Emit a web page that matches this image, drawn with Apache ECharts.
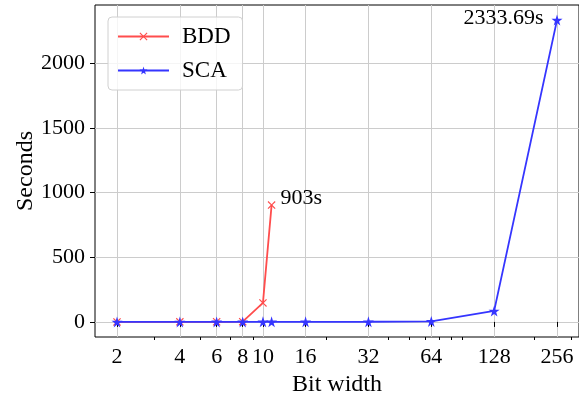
<!DOCTYPE html>
<html>
<head>
<meta charset="utf-8">
<script src="https://cdn.jsdelivr.net/npm/echarts@6/dist/echarts.min.js"></script>
<style>
html, body { margin: 0; padding: 0; background: #fff; }
#chart { width: 579px; height: 397px; }
</style>
</head>
<body>
<div id="chart"></div>
<script>
// data
var bddWidths = [2, 4, 6, 8, 10, 11];
var bddSeconds = [0.1, 0.3, 0.8, 2, 147, 903];
var scaWidths = [2, 4, 6, 8, 10, 11, 16, 32, 64, 128, 256];
var scaSeconds = [0.1, 0.1, 0.2, 0.2, 0.3, 0.3, 0.5, 1.2, 4, 85, 2333.69];
var xTickValues = [2, 4, 6, 8, 10, 16, 32, 64, 128, 256];
var xMinorTicks = [3, 5, 7, 9, 20, 40, 50, 60, 70, 80, 90, 200, 300];
var yTickValues = [0, 500, 1000, 1500, 2000];

var fontName = '"Liberation Serif", "DejaVu Serif", serif';
var redColor = '#ff4d4d';
var blueColor = '#3535ff';
var crossPath = 'path://M0,1L1,0L5,4L9,0L10,1L6,5L10,9L9,10L5,6L1,10L0,9L4,5Z';
var starPath = 'path://M50,0L61,35L98,35L68,57L79,91L50,70L21,91L32,57L2,35L39,35Z';

function log2(v) { return Math.log(v) / Math.LN2; }

/*
 * 生成折线数据（x 取 log2）
 */
function buildPoints(widths, values, labelIndex, labelOpt) {
	var arr = [];
	for (var i = 0; i < widths.length; i++) {
		var item = { value: [log2(widths[i]), values[i]] };
		if (i == labelIndex) {
			item.label = labelOpt;
		}
		arr.push(item);
	}
	return arr;
}

var chart = echarts.init(document.getElementById('chart'));
var option = {
	animation: false,
	textStyle: { fontFamily: fontName },
	grid: {
		left: 95,
		right: 0,
		top: 5,
		bottom: 60,
		show: true,
		borderColor: '#000',
		borderWidth: 1,
		containLabel: false,
		outerBoundsMode: 'none'
	},
	legend: {
		orient: 'vertical',
		left: 108,
		top: 17,
		padding: [8, 12, 8, 9],
		itemWidth: 51,
		itemHeight: 10,
		itemGap: 11,
		selectedMode: false,
		backgroundColor: 'rgba(255,255,255,0.8)',
		borderColor: '#d0d0d0',
		borderWidth: 1,
		borderRadius: 4,
		textStyle: { fontFamily: fontName, fontSize: 23, color: '#000', padding: [0, 0, 0, 8] },
		data: ['BDD', 'SCA']
	},
	xAxis: [{
		type: 'value',
		min: 0.65,
		max: 8.35,
		name: 'Bit width',
		nameLocation: 'middle',
		nameGap: 35,
		nameTextStyle: { fontFamily: fontName, fontSize: 24, color: '#000' },
		axisLine: { show: false },
		axisTick: {
			show: true,
			length: 5,
			lineStyle: { color: '#000' },
			customValues: xTickValues.map(log2)
		},
		axisLabel: {
			fontFamily: fontName,
			fontSize: 22,
			color: '#000',
			margin: 9,
			customValues: xTickValues.map(log2),
			formatter: function (v) { return String(Math.round(Math.pow(2, v))); }
		},
		splitLine: { show: true, lineStyle: { color: '#cccccc', width: 1 } }
	}, {
		type: 'value',
		position: 'bottom',
		min: 0.65,
		max: 8.35,
		axisLine: { show: false },
		axisLabel: { show: false },
		splitLine: { show: false },
		axisTick: {
			show: true,
			length: 3,
			lineStyle: { color: '#000' },
			customValues: xMinorTicks.map(log2)
		}
	}],
	yAxis: {
		type: 'value',
		min: -116.7,
		max: 2450.4,
		name: 'Seconds',
		nameLocation: 'middle',
		nameGap: 57,
		nameMoveOverlap: false,
		nameTextStyle: { fontFamily: fontName, fontSize: 24, color: '#000' },
		axisLine: { show: false },
		axisTick: {
			show: true,
			length: 5,
			lineStyle: { color: '#000' },
			customValues: yTickValues
		},
		axisLabel: {
			fontFamily: fontName,
			fontSize: 22,
			color: '#000',
			margin: 10,
			customValues: yTickValues,
			formatter: function (v) { return String(v); }
		},
		splitLine: { show: true, lineStyle: { color: '#cccccc', width: 1 } }
	},
	series: [{
		name: 'BDD',
		type: 'line',
		symbol: crossPath,
		symbolSize: 8,
		lineStyle: { color: redColor, width: 1.8 },
		itemStyle: { color: redColor },
		data: buildPoints(bddWidths, bddSeconds, 5, {
			show: true,
			position: 'right',
			distance: 5,
			offset: [0, -7],
			fontFamily: fontName,
			fontSize: 22,
			color: '#000',
			formatter: '903s'
		})
	}, {
		name: 'SCA',
		type: 'line',
		symbol: starPath,
		symbolSize: 11,
		lineStyle: { color: blueColor, width: 1.8 },
		itemStyle: { color: blueColor },
		data: buildPoints(scaWidths, scaSeconds, 10, {
			show: true,
			position: 'left',
			distance: 8,
			offset: [0, -2],
			fontFamily: fontName,
			fontSize: 22,
			color: '#000',
			formatter: '2333.69s'
		})
	}]
};
chart.setOption(option);
</script>
</body>
</html>
